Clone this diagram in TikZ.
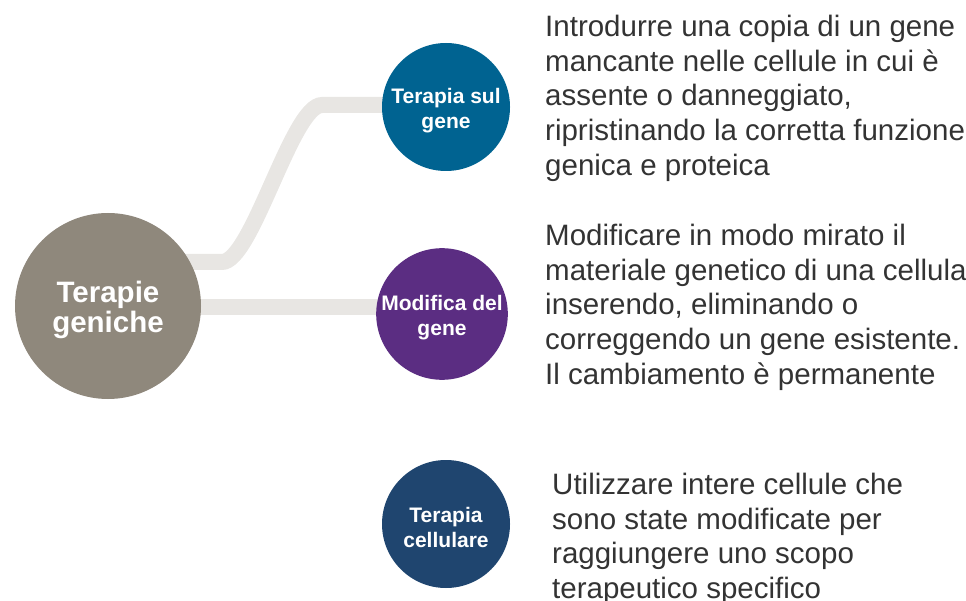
\documentclass[tikz,border=0pt]{standalone}
\usepackage{fontspec}
\setmainfont{Liberation Sans}
\definecolor{maingray}{RGB}{143,136,124}
\definecolor{geneblue}{RGB}{0,99,145}
\definecolor{genepurple}{RGB}{91,45,130}
\definecolor{celldark}{RGB}{31,69,111}
\definecolor{linkgray}{RGB}{232,230,227}
\definecolor{desctext}{RGB}{51,51,51}
\newcommand{\bigstrut}{\rule{0pt}{30pt}}
\newcommand{\smallstrut}{\rule{0pt}{22pt}}
\begin{document}
\begin{tikzpicture}[x=1pt,y=-1pt,
  link/.style={draw=linkgray,line width=16pt},
  bigcirc/.style={circle,fill=maingray,minimum size=186pt,inner sep=0pt,text=white,align=center,
    font=\bfseries\fontsize{29.5}{30}\selectfont},
  smallcirc/.style={circle,minimum size=128pt,inner sep=0pt,text=white,align=center,
    font=\bfseries\fontsize{21}{25}\selectfont},
  desc/.style={anchor=north west,inner sep=0pt,align=left,text=desctext,
    font=\fontsize{29.5}{34.7}\selectfont}]
\useasboundingbox (0,0) rectangle (966,601);
\coordinate (c0) at (108,306);
\coordinate (c1) at (446,107);
\coordinate (c2) at (442,314);
\coordinate (c3) at (446,524);
\coordinate (b1) at (108,262);
\coordinate (b2) at (108,307);
\coordinate (e1) at (446,105);
\coordinate (e2) at (442,307);
% connectors
\draw[link] (b1) -- (222,262) .. controls (252,262) and (292,105) .. (322,105) -- (e1);
\draw[link] (b2) -- (e2);
% circles
\node[bigcirc] (main) at (c0) {\bigstrut Terapie\\geniche};
\node[smallcirc,fill=geneblue] (n1) at (c1) {\smallstrut Terapia sul\\gene};
\node[smallcirc,fill=genepurple] (n2) at (c2) {\smallstrut Modifica del\\gene};
\node[smallcirc,fill=celldark] (n3) at (c3) {\smallstrut Terapia\\cellulare};
% descriptions
\node[desc] (d1) at (545,15) {Introdurre una copia di un gene\\mancante nelle cellule in cui è\\assente o danneggiato,\\ripristinando la corretta funzione\\genica e proteica};
\node[desc] (d2) at (545,224) {Modificare in modo mirato il\\materiale genetico di una cellula\\inserendo, eliminando o\\correggendo un gene esistente.\\Il cambiamento è permanente};
\node[desc] (d3) at (552,473) {Utilizzare intere cellule che\\sono state modificate per\\raggiungere uno scopo\\terapeutico specifico};
\end{tikzpicture}
\end{document}
